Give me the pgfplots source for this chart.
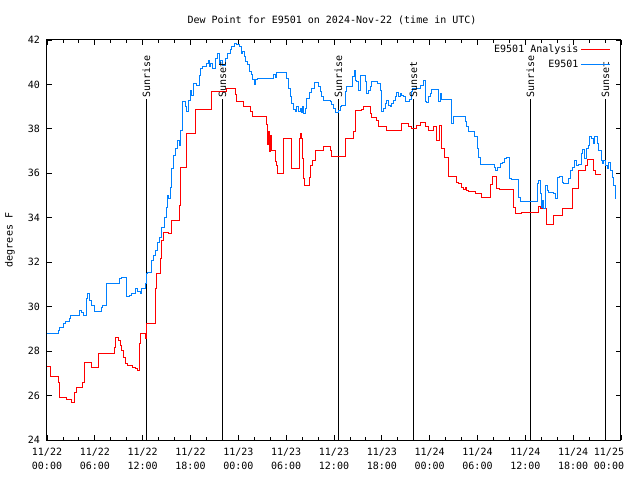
\documentclass[border=0pt]{standalone}
\usepackage{fontspec}
\setmainfont{DejaVu Sans Mono}
\usepackage{pgfplots}
\pgfplotsset{compat=1.18}
\definecolor{obsblue}{RGB}{0,128,255}
\begin{document}
\fontsize{10}{12}\selectfont
\begin{tikzpicture}
\path[use as bounding box] (0,0) rectangle (640pt,480pt);
\begin{axis}[
  at={(47pt,40pt)}, anchor=south west,
  scale only axis, width=574pt, height=400pt,
  xmin=0, xmax=72, ymin=24, ymax=42,
  xtick={0,6,...,72}, minor x tick num=2,
  ytick={24,26,...,42},
  xticklabels={{11/22\\00:00},{11/22\\06:00},{11/22\\12:00},{11/22\\18:00},{11/23\\00:00},{11/23\\06:00},{11/23\\12:00},{11/23\\18:00},{11/24\\00:00},{11/24\\06:00},{11/24\\12:00},{11/24\\18:00},{\hspace*{-24pt}11/25\\\hspace*{-24pt}00:00}},
  xticklabel style={align=center, font=\fontsize{10}{14}\selectfont, yshift=-5pt},
  yticklabel style={font=\fontsize{10}{12}\selectfont, xshift=-3.5pt},
  /pgf/number format/assume math mode=true,
  tick align=inside,
  major tick length=5pt, minor tick length=3pt,
  every tick/.style={black, line width=0.8pt},
  axis line style={line width=1pt},
  legend style={draw=none, fill=none, at={(0.982,0.993)}, anchor=north east, font=\fontsize{10}{12}\selectfont, row sep=1.5pt, inner sep=0pt},
  legend cell align=right,
  legend plot pos=right,
  legend image code/.code={\draw[#1] (0pt,0pt) -- (29pt,0pt);},
]
% sunrise / sunset markers
\addplot[black, line width=1pt, forget plot] coordinates {(12.46,24) (12.46,39.33)};
\addplot[black, line width=1pt, forget plot] coordinates {(22.00,24) (22.00,39.33)};
\addplot[black, line width=1pt, forget plot] coordinates {(36.55,24) (36.55,39.33)};
\addplot[black, line width=1pt, forget plot] coordinates {(45.96,24) (45.96,39.33)};
\addplot[black, line width=1pt, forget plot] coordinates {(60.64,24) (60.64,39.33)};
\addplot[black, line width=1pt, forget plot] coordinates {(70.05,24) (70.05,39.33)};

\addplot[red, line width=1pt, const plot] coordinates {
(0,27.31) (0.50,26.86) (1.42,26.60) (1.63,25.92) (2.47,25.81) (3.10,25.67) (3.51,26.15) (3.73,26.35)
(4.43,26.60) (4.68,27.50) (5.52,27.27) (6.44,27.88) (8.45,28.18) (8.62,28.63) (8.95,28.48) (9.16,28.25)
(9.38,28.03) (9.58,27.72) (9.88,27.43) (10.13,27.35) (10.71,27.27) (11.05,27.20) (11.38,27.13) (11.55,28.33)
(11.67,28.78) (12.30,28.55) (12.51,29.23) (13.62,30.82) (13.68,31.48) (14.27,32.16) (14.40,32.98) (14.60,33.36)
(15.23,33.30) (15.65,33.88) (16.57,34.56) (16.69,36.28) (17.54,37.79) (18.58,38.88) (20.67,39.66) (22.56,39.83)
(23.69,39.53) (23.81,39.23) (24.64,39.01) (25.48,38.79) (25.77,38.55) (27.58,38.18) (27.65,37.28) (27.78,37.88)
(27.90,36.98) (27.99,37.72) (28.12,37.04) (28.71,36.53) (28.83,36.37) (28.96,36.00) (29.66,37.58) (30.63,36.22)
(31.63,37.58) (31.76,37.80) (31.88,37.58) (32.05,36.68) (32.17,35.78) (32.26,35.47) (32.89,35.83) (33.01,36.36)
(33.30,36.59) (33.64,37.04) (34.68,37.22) (35.52,37.04) (35.73,36.77) (37.40,37.58) (38.45,37.86) (38.66,38.81)
(39.50,38.87) (39.70,39.02) (40.54,38.69) (40.76,38.51) (41.38,38.36) (41.58,38.12) (42.64,37.91) (44.52,38.24)
(45.35,38.09) (45.78,38.01) (46.40,38.16) (46.82,38.27) (47.45,38.09) (47.86,37.91) (48.49,38.12) (48.91,37.49)
(49.20,38.16) (49.45,37.11) (49.87,36.73) (50.37,35.86) (51.42,35.61) (51.63,35.56) (52.05,35.38) (52.25,35.27)
(52.47,35.38) (52.68,35.23) (52.88,35.20) (53.72,35.11) (54.47,34.93) (55.60,35.50) (55.89,35.87) (56.44,35.31)
(56.73,35.27) (58.53,34.48) (58.74,34.18) (59.58,34.26) (61.67,34.51) (61.88,34.41) (62.60,33.70) (63.55,34.11)
(64.68,34.41) (65.86,35.31) (66.61,36.14) (67.53,36.36) (67.74,36.62) (68.57,36.14) (68.78,35.96) (69.54,35.96)
};
\addlegendentry{E9501 Analysis}

\addplot[obsblue, line width=1pt, const plot] coordinates {
(0,28.78) (1.42,28.93) (1.63,29.05) (2.05,29.23) (2.26,29.35) (2.76,29.46) (3.01,29.60) (4.02,29.83)
(4.36,29.75) (4.64,29.60) (4.98,30.36) (5.11,30.58) (5.31,30.28) (5.61,30.05) (6.02,29.78) (6.78,29.98)
(6.94,30.05) (7.49,31.03) (9.04,31.26) (9.29,31.30) (10.00,30.46) (10.29,30.50) (10.54,30.61) (11.05,30.80)
(11.38,30.70) (11.67,30.58) (11.88,30.80) (12.30,31.03) (12.51,31.48) (12.59,31.55) (13.14,32.08) (13.34,32.31)
(13.56,32.53) (13.84,32.91) (14.10,33.13) (14.40,33.58) (14.69,34.03) (14.94,34.48) (15.10,35.01) (15.23,34.86)
(15.44,35.38) (15.65,36.21) (15.85,36.81) (16.07,37.11) (16.36,37.49) (16.61,37.26) (16.78,37.94) (17.03,39.21)
(17.32,38.99) (17.54,38.76) (17.74,39.29) (17.95,39.74) (18.16,39.51) (18.36,40.04) (18.70,39.96) (19.12,40.41)
(19.29,40.72) (19.54,40.79) (19.96,40.94) (20.25,41.09) (20.37,40.79) (20.55,40.94) (20.80,40.72) (21.09,41.17)
(21.38,41.39) (21.63,40.94) (21.80,41.09) (22.05,40.86) (22.34,41.17) (22.63,41.39) (22.97,41.55) (23.18,41.71)
(23.51,41.86) (23.81,41.81) (24.10,41.71) (24.35,41.41) (24.51,41.48) (24.76,41.26) (24.94,41.03) (25.19,40.88)
(25.35,40.58) (25.61,40.43) (25.77,40.20) (26.02,39.98) (26.20,40.20) (26.45,40.28) (28.40,40.46) (28.62,40.31)
(28.83,40.55) (30.09,40.28) (30.29,39.83) (30.50,39.46) (30.71,39.15) (30.92,38.85) (31.13,38.78) (31.34,39.00)
(31.54,38.78) (31.76,38.93) (31.88,38.75) (32.05,39.02) (32.17,38.70) (32.38,38.91) (32.60,39.37) (32.89,39.62)
(33.22,39.82) (33.55,40.09) (34.05,39.89) (34.27,39.66) (34.48,39.44) (34.68,39.29) (35.52,39.21) (35.73,39.11)
(35.94,38.91) (36.24,38.72) (36.56,38.84) (36.78,38.99) (36.99,39.06) (37.40,39.66) (37.62,39.89) (38.32,40.34)
(38.57,40.64) (38.75,40.19) (38.87,40.11) (39.07,39.74) (39.29,40.41) (40.00,40.11) (40.13,39.59) (40.33,39.74)
(40.54,39.89) (40.76,40.11) (41.51,40.04) (41.80,39.74) (42.01,38.76) (42.21,38.91) (42.43,39.14) (42.64,39.29)
(42.84,39.06) (43.05,38.99) (43.27,39.14) (43.47,39.29) (43.68,39.44) (43.89,39.62) (44.09,39.47) (44.31,39.59)
(44.52,39.51) (44.72,39.47) (45.02,39.21) (45.44,39.32) (45.69,39.66) (45.85,39.82) (46.82,39.96) (47.23,40.19)
(47.45,39.21) (47.66,39.17) (47.86,39.44) (48.07,39.59) (48.29,39.77) (49.12,39.21) (49.33,39.59) (49.54,39.32)
(50.80,38.24) (51.00,38.54) (51.21,38.57) (52.47,38.31) (52.68,38.09) (52.88,37.86) (53.63,37.64) (53.94,37.11)
(54.14,36.73) (54.35,36.41) (56.14,36.28) (56.31,36.14) (56.57,36.28) (56.86,36.43) (57.15,36.51) (57.40,36.66)
(57.58,36.71) (58.00,35.77) (58.25,35.72) (59.16,34.93) (59.37,34.75) (61.47,35.54) (61.67,35.69) (61.88,35.08)
(62.01,34.48) (62.17,34.78) (62.30,34.41) (62.51,35.46) (62.72,35.23) (62.92,35.16) (63.55,35.08) (63.76,34.86)
(64.00,35.83) (64.26,35.87) (64.60,35.61) (64.80,35.56) (65.36,35.76) (65.65,36.14) (65.94,36.28) (66.19,36.59)
(66.36,36.36) (66.61,36.41) (67.03,36.89) (67.19,37.07) (67.44,36.66) (67.62,37.11) (67.87,37.26) (68.03,37.64)
(68.28,37.56) (68.57,37.34) (68.69,37.64) (69.00,37.34) (69.20,37.04) (69.54,36.59) (69.70,36.43) (69.83,36.59)
(70.04,36.36) (70.25,36.21) (70.45,36.51) (70.67,36.14) (70.88,35.83) (71.08,35.46) (71.30,34.86) (71.42,34.86)
};
\addlegendentry{E9501}

\node[rotate=90, anchor=west, inner sep=2pt] at (axis cs:12.46,39.33) {Sunrise};
\node[rotate=90, anchor=west, inner sep=2pt] at (axis cs:22.00,39.33) {Sunset};
\node[rotate=90, anchor=west, inner sep=2pt] at (axis cs:36.55,39.33) {Sunrise};
\node[rotate=90, anchor=west, inner sep=2pt] at (axis cs:45.96,39.33) {Sunset};
\node[rotate=90, anchor=west, inner sep=2pt] at (axis cs:60.64,39.33) {Sunrise};
\node[rotate=90, anchor=west, inner sep=2pt] at (axis cs:70.05,39.33) {Sunset};
\end{axis}
\node at (332pt,460pt) {Dew Point for E9501 on 2024-Nov-22 (time in UTC)};
\node[rotate=90] at (10pt,240pt) {degrees F};
\end{tikzpicture}
\end{document}
